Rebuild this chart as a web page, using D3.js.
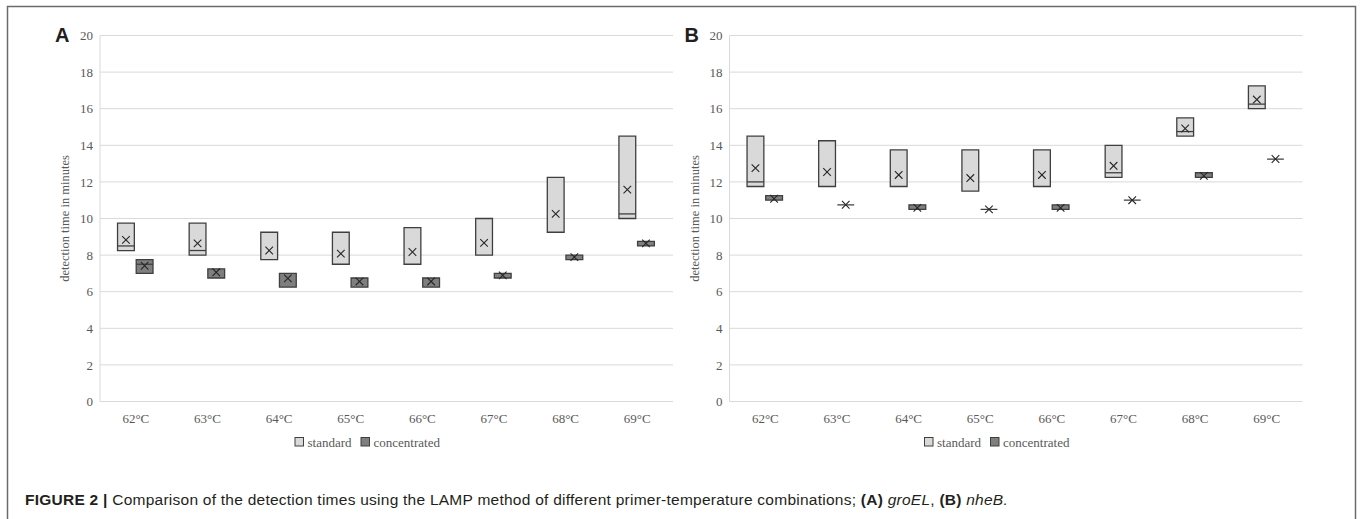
<!DOCTYPE html>
<html>
<head>
<meta charset="utf-8">
<script src="https://cdn.jsdelivr.net/npm/d3@7"></script>
<style>
  body { margin: 0; background: #fff; }
  svg text { font-family: "Liberation Serif", "Times New Roman", serif; fill: #595959; }
  svg text.sans { font-family: "Liberation Sans", Arial, Helvetica, sans-serif; fill: #231f20; }
</style>
</head>
<body>
<svg id="chart" width="1360" height="519"></svg>
<script>
var categories = ["62°C", "63°C", "64°C", "65°C", "66°C", "67°C", "68°C", "69°C"];
var seriesNames = ["standard", "concentrated"];
var yTicks = [0, 2, 4, 6, 8, 10, 12, 14, 16, 18, 20];

// (A) groEL - box limits, medians and means
var groelStdQ1 = [8.25, 8.0, 7.75, 7.5, 7.5, 8.0, 9.25, 10.0];
var groelStdQ3 = [9.75, 9.75, 9.25, 9.25, 9.5, 10.0, 12.25, 14.5];
var groelStdMedian = [8.5, 8.25, 7.75, 7.5, 7.5, 8.0, 9.25, 10.25];
var groelStdMean = [8.83, 8.64, 8.25, 8.08, 8.17, 8.67, 10.25, 11.58];
var groelConcQ1 = [7.0, 6.75, 6.25, 6.25, 6.25, 6.75, 7.75, 8.5];
var groelConcQ3 = [7.75, 7.25, 7.0, 6.75, 6.75, 7.0, 8.0, 8.75];
var groelConcMedian = [7.5, 6.75, 6.25, 6.25, 6.25, 6.75, 7.75, 8.5];
var groelConcMean = [7.42, 7.06, 6.73, 6.56, 6.56, 6.89, 7.89, 8.64];

// (B) nheB
var nhebStdQ1 = [11.75, 11.75, 11.75, 11.5, 11.75, 12.25, 14.5, 16.0];
var nhebStdQ3 = [14.5, 14.25, 13.75, 13.75, 13.75, 14.0, 15.5, 17.25];
var nhebStdMedian = [12.0, 11.75, 11.75, 11.5, 11.75, 12.5, 14.75, 16.25];
var nhebStdMean = [12.75, 12.54, 12.38, 12.21, 12.38, 12.88, 14.92, 16.5];
var nhebConcQ1 = [11.0, 10.75, 10.5, 10.5, 10.5, 11.0, 12.25, 13.25];
var nhebConcQ3 = [11.25, 10.75, 10.75, 10.5, 10.75, 11.0, 12.5, 13.25];
var nhebConcMedian = [11.0, 10.75, 10.5, 10.5, 10.5, 11.0, 12.25, 13.25];
var nhebConcMean = [11.08, 10.75, 10.58, 10.5, 10.58, 11.0, 12.33, 13.25];

var fills = { standard: "#d9d9d9", concentrated: "#7f7f7f" };
var serif = "'Liberation Serif', 'Times New Roman', serif";

var panels = [
  { label: "A", left: 100, right: 673,
    standard: { q1: groelStdQ1, q3: groelStdQ3, med: groelStdMedian, mean: groelStdMean },
    concentrated: { q1: groelConcQ1, q3: groelConcQ3, med: groelConcMedian, mean: groelConcMean } },
  { label: "B", left: 729.5, right: 1302.5,
    standard: { q1: nhebStdQ1, q3: nhebStdQ3, med: nhebStdMedian, mean: nhebStdMean },
    concentrated: { q1: nhebConcQ1, q3: nhebConcQ3, med: nhebConcMedian, mean: nhebConcMean } }
];

var svg = d3.select("#chart");

// outer frame of the figure
svg.append("rect")
  .attr("x", 7.5).attr("y", 6.5)
  .attr("width", 1348).attr("height", 530)
  .attr("fill", "none").attr("stroke", "#6b6b6b").attr("stroke-width", 1.5);

var y = d3.scaleLinear().domain([0, 20]).range([401.5, 35.5]);

function drawPanel(p) {
  var g = svg.append("g").attr("class", "panel-" + p.label);
  var x = d3.scaleBand().domain(categories).range([p.left, p.right]);
  var bw = x.bandwidth();
  var xSub = d3.scaleBand().domain(seriesNames).range([-bw * 0.255, bw * 0.24]).paddingInner(0.1);

  // gridlines
  g.selectAll("line.grid").data(yTicks).enter().append("line")
    .attr("class", "grid")
    .attr("x1", p.left).attr("x2", p.right)
    .attr("y1", function(d){ return y(d); }).attr("y2", function(d){ return y(d); })
    .attr("stroke", "#d9d9d9").attr("stroke-width", 1);
  g.append("line")
    .attr("x1", p.left).attr("x2", p.left)
    .attr("y1", y(0)).attr("y2", y(20))
    .attr("stroke", "#d9d9d9").attr("stroke-width", 1);

  // axes (labels only)
  var yAxis = g.append("g")
    .attr("transform", "translate(" + p.left + ",0)")
    .call(d3.axisLeft(y).tickValues(yTicks).tickSize(0).tickPadding(7));
  var xAxis = g.append("g")
    .attr("transform", "translate(0," + y(0) + ")")
    .call(d3.axisBottom(x).tickSize(0).tickPadding(12));
  [yAxis, xAxis].forEach(function(a){
    a.attr("font-family", serif).attr("font-size", 13);
    a.select(".domain").remove();
    a.selectAll("text")
      .style("font-family", serif)
      .style("font-size", "13px").attr("fill", "#595959");
  });

  g.append("text")
    .attr("transform", "translate(" + (p.left - 31) + "," + ((y(0) + y(20)) / 2) + ") rotate(-90)")
    .attr("text-anchor", "middle")
    .style("font-size", "12.5px")
    .text("detection time in minutes");

  g.append("text")
    .attr("class", "sans")
    .attr("x", p.left - 45).attr("y", 42)
    .style("font-size", "20px").style("font-weight", "bold")
    .attr("fill", "#000")
    .text(p.label);

  // boxes
  seriesNames.forEach(function(s){
    var d = p[s];
    var sg = g.append("g").attr("class", "series-" + s);
    categories.forEach(function(c, i){
      var x0 = x(c) + bw / 2 + xSub(s);
      var x1 = x0 + xSub.bandwidth();
      var top = y(d.q3[i]), bot = y(d.q1[i]);
      sg.append("path")
        .attr("d", "M" + x0 + "," + top + "H" + x1 + "V" + bot + "H" + x0 + "Z")
        .attr("fill", fills[s]).attr("stroke", "#3f3f3f").attr("stroke-width", 1.3);
      if (d.med[i] !== d.q1[i] && d.med[i] !== d.q3[i]) {
        sg.append("line")
          .attr("x1", x0).attr("x2", x1)
          .attr("y1", y(d.med[i])).attr("y2", y(d.med[i]))
          .attr("stroke", "#3f3f3f").attr("stroke-width", 1.3);
      }
      var cx = (x0 + x1) / 2, cy = y(d.mean[i]), r = 3.8;
      sg.append("path")
        .attr("d", "M" + (cx - r) + "," + (cy - r) + "L" + (cx + r) + "," + (cy + r) +
                   "M" + (cx - r) + "," + (cy + r) + "L" + (cx + r) + "," + (cy - r))
        .attr("stroke", "#262626").attr("stroke-width", 1.1).attr("fill", "none");
    });
  });

  // legend
  var lg = g.append("g").attr("transform", "translate(" + (p.left + 194.5) + ",0)");
  var lx = [0, 66];
  seriesNames.forEach(function(s, i){
    lg.append("rect")
      .attr("x", lx[i] + 0.5).attr("y", 437.5).attr("width", 8.5).attr("height", 8.5)
      .attr("fill", fills[s]).attr("stroke", "#3f3f3f").attr("stroke-width", 1);
    lg.append("text")
      .attr("x", lx[i] + 13).attr("y", 447)
      .style("font-size", "13px")
      .text(s);
  });
}

panels.forEach(drawPanel);

// caption
var cap = svg.append("text").attr("class", "sans")
  .attr("x", 25).attr("y", 505)
  .style("font-size", "15.5px")
  .style("letter-spacing", "0.25px");
cap.append("tspan").style("font-weight", "bold").text("FIGURE 2 | ");
cap.append("tspan").text("Comparison of the detection times using the LAMP method of different primer-temperature combinations; ");
cap.append("tspan").style("font-weight", "bold").text("(A) ");
cap.append("tspan").style("font-style", "italic").text("groEL");
cap.append("tspan").text(", ");
cap.append("tspan").style("font-weight", "bold").text("(B) ");
cap.append("tspan").style("font-style", "italic").text("nheB.");
</script>
</body>
</html>
